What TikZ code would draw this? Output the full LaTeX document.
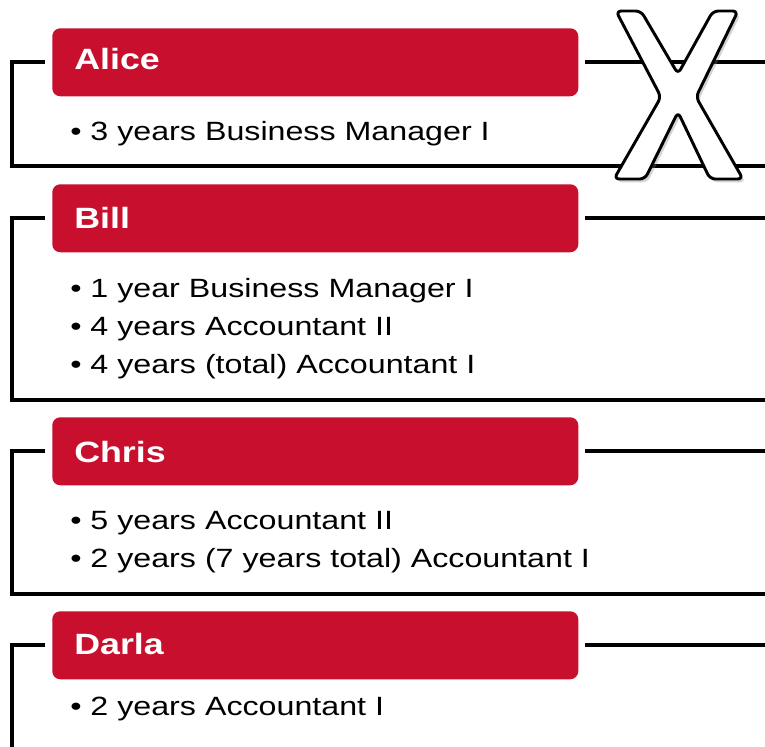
\documentclass[tikz,border=0pt]{standalone}
\usepackage{fontspec}
\setmainfont{Liberation Sans}[FakeStretch=1.22]
\usetikzlibrary{shadows}
\definecolor{hdrred}{RGB}{200,16,46}
\begin{document}
\begin{tikzpicture}[x=0.75pt,y=-0.75pt,
  frame/.style={line width=3.4pt, line join=miter},
  hdrbox/.style={fill=hdrred, rounded corners=6pt, minimum width=394.5pt, minimum height=51pt, anchor=north west, inner sep=0pt},
  hdrtext/.style={anchor=base west, inner sep=0pt, text=white, font=\bfseries\fontsize{22pt}{26pt}\selectfont},
  item/.style={anchor=base west, inner sep=0pt, font=\fontsize{19.8pt}{23pt}\selectfont},
  xmark/.style={fill=white, draw=black, line width=2.2pt, rounded corners=4pt,
    drop shadow={opacity=0.35, shadow xshift=2pt, shadow yshift=-2.5pt}}]
\useasboundingbox (0,0) rectangle (765,747);

% Alice
\node[hdrbox] (hA) at (52,28) {};
\node[hdrtext] (nA) at (74,69) {Alice};
\node[item] (iA1) at (70,140) {• 3 years Business Manager I};
\coordinate (aL) at (45,62); \coordinate (aR) at (585,62); \coordinate (aE) at (765,62);
\coordinate (aC) at (12,62); \coordinate (aB) at (12,166); \coordinate (aBE) at (765,166);
\draw[frame] (aL) -- (aC) -- (aB) -- (aBE);
\draw[frame] (aR) -- (aE);

% Bill
\node[hdrbox] (hB) at (52,184) {};
\node[hdrtext] (nB) at (74,228) {Bill};
\node[item] (iB1) at (70,297) {• 1 year Business Manager I};
\node[item] (iB2) at (70,335) {• 4 years Accountant II};
\node[item] (iB3) at (70,373) {• 4 years (total) Accountant I};
\coordinate (bL) at (45,218); \coordinate (bR) at (585,218); \coordinate (bE) at (765,218);
\coordinate (bC) at (12,218); \coordinate (bB) at (12,400); \coordinate (bBE) at (765,400);
\draw[frame] (bL) -- (bC) -- (bB) -- (bBE);
\draw[frame] (bR) -- (bE);

% Chris
\node[hdrbox] (hC) at (52,417) {};
\node[hdrtext] (nC) at (74,462) {Chris};
\node[item] (iC1) at (70,529) {• 5 years Accountant II};
\node[item] (iC2) at (70,567) {• 2 years (7 years total) Accountant I};
\coordinate (cL) at (45,451); \coordinate (cR) at (585,451); \coordinate (cE) at (765,451);
\coordinate (cC) at (12,451); \coordinate (cB) at (12,594); \coordinate (cBE) at (765,594);
\draw[frame] (cL) -- (cC) -- (cB) -- (cBE);
\draw[frame] (cR) -- (cE);

% Darla
\node[hdrbox] (hD) at (52,611) {};
\node[hdrtext] (nD) at (74,654) {Darla};
\node[item] (iD1) at (70,715) {• 2 years Accountant I};
\coordinate (dL) at (45,645); \coordinate (dR) at (585,645); \coordinate (dE) at (765,645);
\coordinate (dC) at (12,645); \coordinate (dB) at (12,760);
\draw[frame] (dL) -- (dC) -- (dB);
\draw[frame] (dR) -- (dE);

% X mark
\draw[xmark] (616,11) -- (641,11) -- (678,74) -- (713,11) -- (738,11) -- (696,97)
  -- (743,179) -- (710,179) -- (678,112) -- (645,179) -- (614,179) -- (661,97) -- cycle;
\end{tikzpicture}
\end{document}
